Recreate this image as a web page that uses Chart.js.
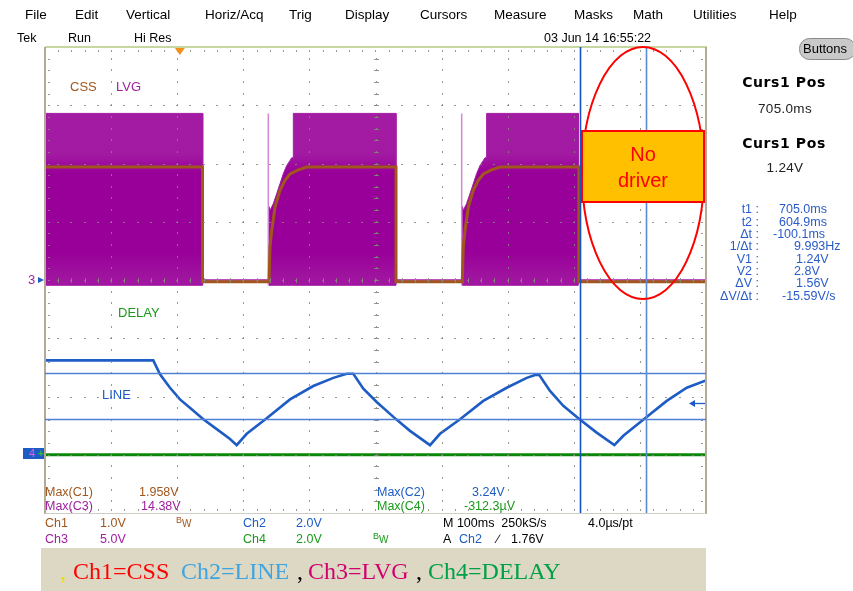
<!DOCTYPE html>
<html><head><meta charset="utf-8">
<script src="https://cdn.jsdelivr.net/npm/chart.js@4/dist/chart.umd.min.js"></script>
<style>html,body{margin:0;padding:0;background:#fff;}canvas{display:block}</style>
</head><body>
<canvas id="c" width="853" height="591"></canvas>
<script>
// ---------- data (time in ms, trigger at 0; 100 ms/div, 10 div on screen) ----------
const timeMin = -204, timeMax = 796;

// Ch1 = CSS (volts, 1 V/div)
const cssT = [-204, 34.2, 34.2, 134.9, 136.4, 139.0, 144.0, 151.5, 159.1, 166.7, 179.2, 191.9, 327.0, 327.0, 427.3, 428.8, 431.4, 436.4, 443.9, 451.5, 459.1, 471.6, 484.3, 603.9, 603.9, 796];
const cssV = [1.94, 1.94, -0.03, -0.03, 0.57, 0.85, 1.25, 1.54, 1.71, 1.82, 1.89, 1.94, 1.94, -0.03, -0.03, 0.57, 0.85, 1.25, 1.54, 1.71, 1.82, 1.89, 1.94, 1.94, -0.03, -0.03];

// Ch2 = LINE (volts, 2 V/div)
const lineT = [-204, -40.2, -30.0, -14.9, 0.2, 17.9, 35.5, 55.8, 75.9, 86.0, 101.2, 131.4, 166.7, 201.9, 232.2, 252.4, 262.4, 277.6, 297.8, 323.0, 348.2, 378.5, 393.6, 423.9, 459.1, 494.5, 524.8, 537.3, 543.8, 560.0, 580.1, 602.8, 630.6, 657.3, 670.9, 703.8, 736.6, 766.9, 796];
const lineV = [3.24, 3.24, 2.76, 2.30, 1.90, 1.56, 1.22, 0.88, 0.54, 0.33, 0.72, 1.25, 1.90, 2.36, 2.64, 2.78, 2.78, 2.27, 1.81, 1.30, 0.82, 0.33, 0.72, 1.22, 1.85, 2.30, 2.64, 2.74, 2.74, 2.19, 1.68, 1.25, 0.76, 0.33, 0.65, 1.25, 1.85, 2.30, 2.55];

// Ch3 = LVG (volts, 5 V/div) — switching envelope: upper and lower edges
const lvgT  = [-204, 34.6, 34.6, 134.9, 134.9, 136.4, 141.4, 146.5, 151.5, 156.5, 161.7, 166.7, 169.2, 171.7, 171.7, 327.0, 327.0, 427.6, 427.6, 428.8, 433.8, 438.9, 443.9, 448.9, 454.1, 459.1, 461.6, 464.1, 464.1, 602.8, 602.8, 796];
const lvgHi = [14.3, 14.3, 0, 0, 6.3, 5.98, 6.55, 7.41, 8.26, 9.12, 9.83, 10.26, 10.49, 10.49, 14.3, 14.3, 0, 0, 6.3, 5.98, 6.55, 7.41, 8.26, 9.12, 9.83, 10.26, 10.49, 10.49, 14.3, 14.3, 0, 0];
const lvgLo = [-0.45, -0.45, 0, 0, -0.45, -0.45, -0.45, -0.45, -0.45, -0.45, -0.45, -0.45, -0.45, -0.45, -0.45, -0.45, 0, 0, -0.45, -0.45, -0.45, -0.45, -0.45, -0.45, -0.45, -0.45, -0.45, -0.45, -0.45, -0.45, 0, 0];
const lvgSpikeT = [133.8, 426.4];

// Ch4 = DELAY (volts, 2 V/div)
const delayT = [-204, 796];
const delayV = [0, 0];

// cursors
const cursorT = [705.0, 604.9];   // t1, t2 (ms)
const cursorV = [1.24, 2.8];      // V1, V2 on Ch2
const trigLevel = 1.76;           // Ch2 trigger level

// channel vertical settings (V/div, position in div)
const chan = { css:{s:1, o:0}, line:{s:2, o:-3}, lvg:{s:5, o:0}, delay:{s:2, o:-3} };
const toDiv = (v, c) => v / c.s + c.o;
const pts = (ts, vs, c) => ts.map((t, i) => ({ x: t, y: toDiv(vs[i], c) }));

const spikeData = [];
lvgSpikeT.forEach(t => {
  spikeData.push({ x: t, y: toDiv(-0.45, chan.lvg) }, { x: t, y: toDiv(14.3, chan.lvg) }, { x: t, y: null });
});

// ---------- drawing helpers ----------
function txt(ctx, s, x, y, color, font, align) {
  ctx.save();
  ctx.fillStyle = color; ctx.font = font; ctx.textAlign = align || 'left'; ctx.textBaseline = 'middle';
  ctx.fillText(s, x, y);
  ctx.restore();
}

const scopePlugin = {
  id: 'scope',
  beforeDraw(chart) {
    const ctx = chart.ctx;
    ctx.save(); ctx.fillStyle = '#fff'; ctx.fillRect(0, 0, chart.width, chart.height); ctx.restore();
  },
  afterDatasetsDraw(chart) {
    const ctx = chart.ctx, ca = chart.chartArea;
    const xs = chart.scales.x, ys = chart.scales.y;
    const L = ca.left, T = ca.top, R = ca.right, B = ca.bottom;
    const dx = (R - L) / 10, dy = (B - T) / 8;
    ctx.save();
    // graticule dots
    ctx.fillStyle = 'rgba(135,135,125,0.85)';
    for (let j = 1; j < 8; j++) {
      const y = Math.round(T + j * dy);
      for (let k = 1; k < 50; k++) ctx.fillRect(Math.round(L + k * dx / 5) - 1, y, 2, 1);
    }
    for (let i = 1; i < 10; i++) {
      const x = Math.round(L + i * dx);
      for (let k = 1; k < 40; k++) ctx.fillRect(x, Math.round(T + k * dy / 5) - 1, 1, 2);
    }
    // centre ticks
    const xc = Math.round(L + 5 * dx), yc = Math.round(T + 4 * dy);
    for (let k = 1; k < 40; k++) ctx.fillRect(xc - 2, Math.round(T + k * dy / 5), 5, 1);
    for (let k = 1; k < 50; k++) ctx.fillRect(Math.round(L + k * dx / 5), yc - 2, 1, 5);
    // edge ticks
    for (let k = 1; k < 50; k++) {
      const x = Math.round(L + k * dx / 5);
      ctx.fillRect(x, T + 3, 1, 2); ctx.fillRect(x, B - 4, 1, 2);
    }
    for (let k = 1; k < 40; k++) {
      const y = Math.round(T + k * dy / 5);
      ctx.fillRect(L + 3, y, 2, 1); ctx.fillRect(R - 5, y, 2, 1);
    }
    // borders
    ctx.fillStyle = 'rgb(200,214,160)'; ctx.fillRect(L, T - 1, R - L + 1, 2);
    ctx.fillStyle = 'rgb(178,170,150)'; ctx.fillRect(L - 1, T, 2, B - T + 1); ctx.fillRect(R - 1, T, 2, B - T + 1);
    ctx.fillStyle = 'rgb(205,205,195)'; ctx.fillRect(L, B, R - L, 1);

    // horizontal cursors (Ch2)
    ctx.strokeStyle = '#4f80d2'; ctx.lineWidth = 1.4;
    cursorV.forEach(v => {
      const y = Math.round(ys.getPixelForValue(toDiv(v, chan.line))) + 0.5;
      ctx.beginPath(); ctx.moveTo(L, y); ctx.lineTo(R, y); ctx.stroke();
    });
    // vertical cursors
    const cc = ['#5b8ad6', '#1552c4'];
    cursorT.forEach((t, i) => {
      const x = Math.round(xs.getPixelForValue(t)) + 0.5;
      ctx.strokeStyle = cc[i]; ctx.lineWidth = 1.6;
      ctx.beginPath(); ctx.moveTo(x, T); ctx.lineTo(x, B); ctx.stroke();
    });

    // in-plot labels
    const f13 = '13px "Liberation Sans", Arial, sans-serif';
    txt(ctx, 'CSS', 70, 87, '#a0561c', f13);
    txt(ctx, 'LVG', 116, 87, '#a020a0', f13);
    txt(ctx, 'DELAY', 118, 313, '#1a9a1a', f13);
    txt(ctx, 'LINE', 102, 395, '#1d5cc4', f13);

    // trigger level arrow (right)
    const ya = Math.round(ys.getPixelForValue(toDiv(trigLevel, chan.line))) + 0.5;
    ctx.strokeStyle = '#1d5cc4'; ctx.fillStyle = '#1d5cc4'; ctx.lineWidth = 1.3;
    ctx.beginPath(); ctx.moveTo(R - 1, ya); ctx.lineTo(R - 14, ya); ctx.stroke();
    ctx.beginPath(); ctx.moveTo(R - 17, ya); ctx.lineTo(R - 11, ya - 3.5); ctx.lineTo(R - 11, ya + 3.5); ctx.closePath(); ctx.fill();

    // trigger position marker (top)
    const xt = xs.getPixelForValue(0);
    ctx.fillStyle = '#f39019';
    ctx.beginPath(); ctx.moveTo(xt - 5, T + 1); ctx.lineTo(xt + 5, T + 1); ctx.lineTo(xt, T + 8); ctx.closePath(); ctx.fill();

    // measurements inside graticule
    const f12 = '12.5px "Liberation Sans", Arial, sans-serif';
    txt(ctx, 'Max(C1)', 45, 493, '#a0561c', f12); txt(ctx, '1.958V', 139, 493, '#a0561c', f12);
    txt(ctx, 'Max(C3)', 45, 507, '#a020a0', f12); txt(ctx, '14.38V', 141, 507, '#a020a0', f12);
    txt(ctx, 'Max(C2)', 377, 493, '#1d5cc4', f12); txt(ctx, '3.24V', 472, 493, '#1d5cc4', f12);
    txt(ctx, 'Max(C4)', 377, 507, '#1a9a1a', f12); txt(ctx, '-312.3\u00b5V', 464, 507, '#1a9a1a', f12);

    // annotation: ellipse and "No driver" box
    ctx.strokeStyle = '#ff0000'; ctx.lineWidth = 2;
    ctx.beginPath(); ctx.ellipse(643, 173, 61, 126, 0, 0, Math.PI * 2); ctx.stroke();
    ctx.fillStyle = '#ffc000'; ctx.fillRect(582, 131, 122, 71);
    ctx.strokeStyle = '#ff0000'; ctx.lineWidth = 2; ctx.strokeRect(582, 131, 122, 71);
    const f20 = '20px "Liberation Sans", Arial, sans-serif';
    txt(ctx, 'No', 643, 155, '#ff0000', f20, 'center');
    txt(ctx, 'driver', 643, 181, '#ff0000', f20, 'center');
    ctx.restore();
  },
  afterDraw(chart) {
    const ctx = chart.ctx;
    ctx.save();
    const fm = '13.5px "Liberation Sans", Arial, sans-serif';
    const menu = ['File', 'Edit', 'Vertical', 'Horiz/Acq', 'Trig', 'Display', 'Cursors', 'Measure', 'Masks', 'Math', 'Utilities', 'Help'];
    const menuX = [25, 75, 126, 205, 289, 345, 420, 494, 574, 633, 693, 769];
    menu.forEach((m, i) => txt(ctx, m, menuX[i], 15, '#000', fm));
    const f12 = '12.5px "Liberation Sans", Arial, sans-serif';
    txt(ctx, 'Tek', 17, 39, '#000', f12);
    txt(ctx, 'Run', 68, 39, '#000', f12);
    txt(ctx, 'Hi Res', 134, 39, '#000', f12);
    txt(ctx, '03 Jun 14 16:55:22', 544, 39, '#000', f12);
    // Buttons
    ctx.fillStyle = '#c9c9c9'; ctx.strokeStyle = '#8a8a8a'; ctx.lineWidth = 1;
    ctx.beginPath(); ctx.roundRect(799.5, 38.5, 56, 21, 10); ctx.fill(); ctx.stroke();
    txt(ctx, 'Buttons', 803, 49, '#000', '13px "Liberation Sans", Arial, sans-serif');

    // cursor readout panel
    const fb = 'bold 14px "DejaVu Sans", Verdana, sans-serif';
    ctx.letterSpacing = '0.6px';
    txt(ctx, 'Curs1 Pos', 784, 83, '#000', fb, 'center');
    txt(ctx, 'Curs1 Pos', 784, 144, '#000', fb, 'center');
    ctx.letterSpacing = '0.3px';
    txt(ctx, '705.0ms', 785, 109, '#222', '13.5px "Liberation Sans", Arial, sans-serif', 'center');
    txt(ctx, '1.24V', 785, 168, '#222', '13.5px "Liberation Sans", Arial, sans-serif', 'center');
    ctx.letterSpacing = '0px';
    const lab = ['t1 :', 't2 :', '\u0394t :', '1/\u0394t :', 'V1 :', 'V2 :', '\u0394V :', '\u0394V/\u0394t :'];
    const val = ['705.0ms', '604.9ms', '-100.1ms', '9.993Hz', '1.24V', '2.8V', '1.56V', '-15.59V/s'];
    const valX = [779, 779, 773, 794, 796, 794, 796, 782];
    const fbl = '12.5px "Liberation Sans", Arial, sans-serif';
    lab.forEach((l, i) => {
      const y = 210 + i * 12.3;
      txt(ctx, l, 759, y, '#2a5cc8', fbl, 'right');
      txt(ctx, val[i], valX[i], y, '#2a5cc8', fbl);
    });

    // channel markers on the left
    txt(ctx, '3', 28, 280, '#a020a0', '13px "Liberation Sans", Arial, sans-serif');
    ctx.fillStyle = '#1d5cc4';
    ctx.beginPath(); ctx.moveTo(44, 280); ctx.lineTo(38, 277); ctx.lineTo(38, 283); ctx.closePath(); ctx.fill();
    ctx.fillRect(23, 448, 21, 11);
    txt(ctx, '4', 29, 454, '#e060e0', '11px "Liberation Sans", Arial, sans-serif');
    txt(ctx, '+', 38, 454, '#30c030', 'bold 10px "Liberation Sans", Arial, sans-serif');

    // channel settings
    txt(ctx, 'Ch1', 45, 524, '#a0561c', f12); txt(ctx, '1.0V', 100, 524, '#a0561c', f12);
    txt(ctx, 'Ch3', 45, 540, '#a020a0', f12); txt(ctx, '5.0V', 100, 540, '#a020a0', f12);
    txt(ctx, 'B', 176, 521, '#a0561c', '9px "Liberation Sans", Arial, sans-serif');
    txt(ctx, 'W', 182, 524, '#a0561c', '10px "Liberation Sans", Arial, sans-serif');
    txt(ctx, 'Ch2', 243, 524, '#1d5cc4', f12); txt(ctx, '2.0V', 296, 524, '#1d5cc4', f12);
    txt(ctx, 'Ch4', 243, 540, '#1a9a1a', f12); txt(ctx, '2.0V', 296, 540, '#1a9a1a', f12);
    txt(ctx, 'B', 373, 537, '#1a9a1a', '9px "Liberation Sans", Arial, sans-serif');
    txt(ctx, 'W', 379, 540, '#1a9a1a', '10px "Liberation Sans", Arial, sans-serif');
    txt(ctx, 'M 100ms  250kS/s', 443, 524, '#000', f12);
    txt(ctx, '4.0\u00b5s/pt', 588, 524, '#000', f12);
    txt(ctx, 'A', 443, 540, '#000', f12);
    txt(ctx, 'Ch2', 459, 540, '#1d5cc4', f12);
    txt(ctx, '\u2215', 497, 540, '#000', f12);
    txt(ctx, '1.76V', 511, 540, '#000', f12);

    // legend bar
    ctx.fillStyle = 'rgb(221,216,195)'; ctx.fillRect(41, 548, 665, 43);
    const fs = '24px "Liberation Serif", "Times New Roman", serif';
    txt(ctx, ',', 60, 573, '#e8e000', fs);
    txt(ctx, 'Ch1=CSS', 73, 573, '#ff0000', fs);
    txt(ctx, 'Ch2=LINE', 181, 573, '#3fa4e0', fs);
    txt(ctx, ',', 297, 573, '#000', fs);
    txt(ctx, 'Ch3=LVG', 308, 573, '#d0006e', fs);
    txt(ctx, ',', 416, 573, '#000', fs);
    txt(ctx, 'Ch4=DELAY', 428, 573, '#00a046', fs);
    ctx.restore();
  }
};

function lvgFill(context) {
  const ch = context.chart, ca = ch.chartArea;
  if (!ca) return 'rgb(153,0,153)';
  const g = ch.ctx.createLinearGradient(0, ca.top, 0, ca.bottom);
  g.addColorStop(0.00, 'rgb(164,30,164)');
  g.addColorStop(0.23, 'rgb(162,26,162)');
  g.addColorStop(0.27, 'rgb(153,0,153)');
  g.addColorStop(0.44, 'rgb(153,0,153)');
  g.addColorStop(0.50, 'rgb(160,22,160)');
  g.addColorStop(1.00, 'rgb(160,22,160)');
  return g;
}

new Chart(document.getElementById('c'), {
  type: 'line',
  data: {
    datasets: [
      { label: 'CSS', data: pts(cssT, cssV, chan.css), borderColor: '#a0561c', borderWidth: 3, pointRadius: 0, fill: false, order: 0 },
      { label: 'LINE', data: pts(lineT, lineV, chan.line), borderColor: '#1d5cc4', borderWidth: 2.6, pointRadius: 0, fill: false, order: 1 },
      { label: 'DELAY', data: pts(delayT, delayV, chan.delay), borderColor: '#0a860a', borderWidth: 3, pointRadius: 0, fill: false, order: 2 },
      { label: 'LVG spikes', data: spikeData, borderColor: 'rgba(210,130,210,0.95)', borderWidth: 1.5, pointRadius: 0, fill: false, spanGaps: false, order: 3 },
      { label: 'LVG', data: pts(lvgT, lvgHi, chan.lvg), borderColor: 'rgb(164,30,164)', borderWidth: 1, pointRadius: 0, backgroundColor: lvgFill, fill: '+1', order: 4 },
      { label: 'LVG low', data: pts(lvgT, lvgLo, chan.lvg), borderColor: 'rgb(155,10,155)', borderWidth: 1, pointRadius: 0, fill: false, order: 5 }
    ]
  },
  options: {
    responsive: false, animation: false, devicePixelRatio: 1,
    layout: { padding: { left: 45, right: 147, top: 47, bottom: 78 } },
    elements: { line: { tension: 0 } },
    plugins: { legend: { display: false }, tooltip: { enabled: false } },
    scales: {
      x: { type: 'linear', min: timeMin, max: timeMax, display: false },
      y: { type: 'linear', min: -4, max: 4, display: false }
    }
  },
  plugins: [scopePlugin]
});
</script>
</body></html>
